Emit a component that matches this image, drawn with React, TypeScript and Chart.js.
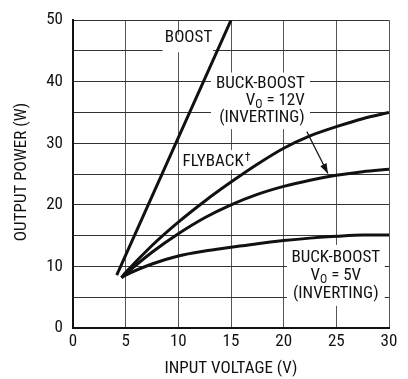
import React, { useEffect, useRef } from "react";
import { Chart, registerables } from "chart.js";

Chart.register(...registerables);

const vin = [4.6, 5, 7.5, 10, 12.5, 15, 17.5, 20, 22.5, 25, 27.5, 30];
const buckBoost12V = [8.2, 9, 13.4, 17.2, 20.6, 23.7, 26.6, 29.2, 31.2, 32.7, 34, 35];
const flyback = [8.2, 8.8, 12.3, 15.3, 17.9, 20.0, 21.7, 23.0, 24.0, 24.8, 25.4, 25.8];
const buckBoost5V = [8.2, 8.6, 10.4, 11.7, 12.5, 13.1, 13.7, 14.2, 14.6, 14.9, 15.1, 15.1];
const boostVin = [4.15, 15];
const boostPower = [8.6, 50];

const xTicks = [0, 5, 10, 15, 20, 25, 30];
const yLabelTicks = [0, 10, 20, 30, 40, 50];

const FONT = '"Roboto Condensed", "Open Sans", sans-serif';
const FS = 17;
const FS_SMALL = 12;

const toPts = (xs: number[], ys: number[]) => xs.map((x, i) => ({ x, y: ys[i] }));

function drawVo(ctx: any, rest: string, x: number, y: number, align: string) {
  ctx.save();
  ctx.textAlign = "left";
  ctx.font = `${FS}px ${FONT}`;
  const wV = ctx.measureText("V").width;
  ctx.font = `${FS_SMALL}px ${FONT}`;
  const wO = ctx.measureText("O").width;
  ctx.font = `${FS}px ${FONT}`;
  const wR = ctx.measureText(rest).width;
  const total = wV + wO + wR;
  let start = x;
  if (align === "right") start = x - total;
  else if (align === "center") start = x - total / 2;
  ctx.fillText("V", start, y);
  ctx.font = `${FS_SMALL}px ${FONT}`;
  ctx.fillText("O", start + wV, y + 3);
  ctx.font = `${FS}px ${FONT}`;
  ctx.fillText(rest, start + wV + wO, y);
  ctx.restore();
}

const annotationPlugin = {
  id: "annotations",
  beforeDatasetsDraw(chart: any) {
    const { ctx } = chart;
    const xs = chart.scales.x;
    const ys = chart.scales.y;
    const px = (v: number) => xs.getPixelForValue(v);
    const py = (v: number) => ys.getPixelForValue(v);
    ctx.save();
    ctx.fillStyle = "#fff";
    const box = (x0: number, y0: number, x1: number, y1: number) => {
      ctx.fillRect(px(x0), py(y0), px(x1) - px(x0), py(y1) - py(y0));
    };
    box(8.5, 47.6, 13.3, 44.8); // BOOST
    box(13.1, 41.5, 22.5, 32.3); // BUCK-BOOST 12V
    box(10.15, 28.9, 17.0, 25.7); // FLYBACK
    box(20.3, 13.5, 29.6, 3.6); // BUCK-BOOST 5V

    ctx.fillStyle = "#111";
    ctx.textBaseline = "alphabetic";
    ctx.font = `${FS}px ${FONT}`;

    ctx.textAlign = "center";
    ctx.fillText("BOOST", px(10.97), py(46.4));

    const rx = px(22.0);
    ctx.textAlign = "right";
    ctx.fillText("BUCK-BOOST", rx, py(39.0));
    ctx.fillText("(INVERTING)", rx, py(33.5));
    drawVo(ctx, " = 12V", rx, py(36.2), "right");

    ctx.textAlign = "left";
    const fx = px(10.4);
    const fy = py(26.3);
    ctx.fillText("FLYBACK", fx, fy);
    const fw = ctx.measureText("FLYBACK").width;
    ctx.font = `${FS_SMALL}px ${FONT}`;
    ctx.fillText("†", fx + fw + 1, fy - 5);
    ctx.font = `${FS}px ${FONT}`;

    const cx = px(24.95);
    ctx.textAlign = "center";
    ctx.fillText("BUCK-BOOST", cx, py(10.7));
    ctx.fillText("(INVERTING)", cx, py(4.9));
    drawVo(ctx, " = 5V", cx, py(7.8), "center");
    ctx.restore();
  },
  afterDatasetsDraw(chart: any) {
    const { ctx } = chart;
    const xs = chart.scales.x;
    const ys = chart.scales.y;
    const x0 = xs.getPixelForValue(22.2);
    const y0 = ys.getPixelForValue(31.9);
    const x1 = xs.getPixelForValue(24.2);
    const y1 = ys.getPixelForValue(25.1);
    ctx.save();
    ctx.strokeStyle = "#111";
    ctx.fillStyle = "#111";
    ctx.lineWidth = 1.2;
    ctx.beginPath();
    ctx.moveTo(x0, y0);
    ctx.lineTo(x1, y1);
    ctx.stroke();
    const ang = Math.atan2(y1 - y0, x1 - x0);
    const len = 10;
    const w = 3.5;
    ctx.beginPath();
    ctx.moveTo(x1, y1);
    ctx.lineTo(x1 - len * Math.cos(ang) + w * Math.sin(ang), y1 - len * Math.sin(ang) - w * Math.cos(ang));
    ctx.lineTo(x1 - len * Math.cos(ang) - w * Math.sin(ang), y1 - len * Math.sin(ang) + w * Math.cos(ang));
    ctx.closePath();
    ctx.fill();
    ctx.restore();
  },
  afterDraw(chart: any) {
    const { ctx, chartArea } = chart;
    ctx.save();
    ctx.fillStyle = "#111";
    ctx.font = `${FS}px ${FONT}`;
    ctx.textAlign = "center";
    ctx.textBaseline = "middle";
    ctx.fillText("INPUT VOLTAGE (V)", (chartArea.left + chartArea.right) / 2, 369);
    ctx.translate(22, 172);
    ctx.rotate(-Math.PI / 2);
    ctx.fillText("OUTPUT POWER (W)", 0, 0);
    ctx.restore();
  },
};

export default function App() {
  const ref = useRef<HTMLCanvasElement>(null);
  useEffect(() => {
    if (!ref.current) return;
    const lineStyle = {
      borderColor: "#111",
      borderWidth: 3,
      pointRadius: 0,
      fill: false,
      cubicInterpolationMode: "monotone" as const,
    };
    const chart = new Chart(ref.current, {
      type: "line",
      data: {
        datasets: [
          { label: "Boost", data: toPts(boostVin, boostPower), ...lineStyle },
          { label: "Buck-Boost 12V", data: toPts(vin, buckBoost12V), ...lineStyle },
          { label: "Flyback", data: toPts(vin, flyback), ...lineStyle },
          { label: "Buck-Boost 5V", data: toPts(vin, buckBoost5V), ...lineStyle },
        ],
      },
      options: {
        responsive: false,
        animation: false,
        layout: { padding: { top: 13, right: 19, left: 0, bottom: 0 } },
        plugins: { legend: { display: false }, tooltip: { enabled: false } },
        scales: {
          x: {
            type: "linear",
            min: 0,
            max: 30,
            afterBuildTicks: (s: any) => {
              s.ticks = xTicks.map((v) => ({ value: v }));
            },
            afterFit: (s: any) => {
              s.height = 51;
            },
            grid: { color: "#555", lineWidth: 1, drawTicks: false },
            border: { color: "#111", width: 2 },
            ticks: {
              padding: 4,
              color: "#111",
              font: { family: FONT, size: FS },
              maxRotation: 0,
            },
          },
          y: {
            type: "linear",
            min: 0,
            max: 50,
            ticks: {
              stepSize: 5,
              padding: 10,
              color: "#111",
              font: { family: FONT, size: FS },
              callback: (v: any) => (yLabelTicks.includes(Number(v)) ? String(v) : ""),
            },
            afterFit: (s: any) => {
              s.width = 73;
            },
            grid: { color: "#333", lineWidth: 1, drawTicks: false },
            border: { color: "#111", width: 2 },
          },
        },
      },
      plugins: [annotationPlugin],
    });
    return () => chart.destroy();
  }, []);
  return (
    <canvas
      ref={ref}
      width={408}
      height={379}
      style={{ position: "absolute", left: 0, top: 0, width: 408, height: 379, background: "#fff" }}
    />
  );
}
